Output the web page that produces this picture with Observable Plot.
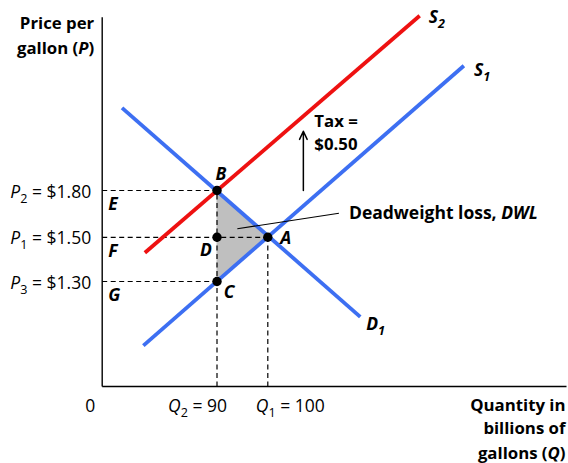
<!DOCTYPE html>
<html><head><meta charset="utf-8">
<script src="https://cdn.jsdelivr.net/npm/d3@7"></script>
<script src="https://cdn.jsdelivr.net/npm/@observablehq/plot@0.6"></script>
<style>body{margin:0;background:#fff} svg{display:block}</style>
</head><body><div id="chart"></div>
<script>
// ---- data ----
const priceTicks = [1.30, 1.50, 1.80];
const priceLabels = ["<i>P</i><sub>3</sub> = $1.30", "<i>P</i><sub>1</sub> = $1.50", "<i>P</i><sub>2</sub> = $1.80"];
const quantityTicks = [90, 100];
const quantityLabels = ["<i>Q</i><sub>2</sub> = 90", "<i>Q</i><sub>1</sub> = 100"];
const curveNames = ["D<sub>1</sub>", "S<sub>1</sub>", "S<sub>2</sub>"];
const curveQStart = [71.3, 75.5, 75.8];
const curvePStart = [2.33, 1.01, 1.43];
const curveQEnd = [118.2, 138.6, 129.9];
const curvePEnd = [1.14, 2.60, 2.92];
const pointNames = ["B", "D", "A", "C"];
const pointQ = [90, 90, 100, 90];
const pointP = [1.80, 1.50, 1.50, 1.30];
const dwlQ = [90, 100, 90];
const dwlP = [1.30, 1.50, 1.80];
const areaLetters = ["G", "F", "E"];
const taxQ = 107, taxPFrom = 1.80, taxPTo = 2.18;
const taxLabel = ["Tax =", "$0.50"];
const dwlLabel = "Deadweight loss, <i>DWL</i>";
const dwlPointer = {q1: 94.0, p1: 1.555, q2: 114.0, p2: 1.654};
const axisQmin = 67.4, axisQmax = 158.8, axisPmin = 0.825, axisPmax = 2.91;
const yTitle = ["Price per", "gallon (<i>P</i>)"];
const xTitle = ["Quantity in", "billions of", "gallons (<i>Q</i>)"];

// ---- tables ----
const curves = curveNames.map((name, i) => ({name, q1: curveQStart[i], p1: curvePStart[i], q2: curveQEnd[i], p2: curvePEnd[i]}));
const points = pointNames.map((name, i) => ({name, q: pointQ[i], p: pointP[i]}));
const dwl = dwlQ.map((q, i) => ({q, p: dwlP[i]}));
const ticksP = priceTicks.map((p, i) => ({p, label: priceLabels[i], letter: areaLetters[i]}));
const ticksQ = quantityTicks.map((q, i) => ({q, label: quantityLabels[i]}));
const hDash = [
  {q2: 90, p: 1.80}, {q2: 100, p: 1.50}, {q2: 90, p: 1.30}
];
const vDash = [{q: 90, p2: 1.80}, {q: 100, p2: 1.50}];

const blue = "#3d6ff2", red = "#ee1111";
const curveColor = {"D<sub>1</sub>": blue, "S<sub>1</sub>": blue, "S<sub>2</sub>": red};
const curveLabelOffset = {"D<sub>1</sub>": [6, 8], "S<sub>1</sub>": [10, 5], "S<sub>2</sub>": [9, 2]};
const pointLabelOffset = {B: [4, -16], D: [-11, 13], A: [18, 1], C: [12, 11]};
const font = "'Open Sans', sans-serif";
const regSize = 17.5, boldSize = 16.8, letterSize = 17.5;

const plot = Plot.plot({
  width: 568, height: 463,
  style: {fontFamily: font, background: "#fff", color: "#000"},
  x: {type: "linear", domain: [axisQmin, axisQmax], range: [101.7, 566], axis: null},
  y: {type: "linear", domain: priceTicks, range: [281, 236.8, 190], axis: null},
  marks: [
    // dead weight loss triangle
    Plot.areaX(dwl, {y: "p", x1: 90, x2: "q", fill: "#bfbfbf"}),
    // dashed guides
    Plot.link(hDash, {x1: axisQmin, x2: "q2", y1: "p", y2: "p", stroke: "#000", strokeWidth: 1.2, strokeDasharray: "5,3.5"}),
    Plot.link(vDash, {x1: "q", x2: "q", y1: axisPmin, y2: "p2", stroke: "#000", strokeWidth: 1.2, strokeDasharray: "5,3.5"}),
    // axes
    Plot.link([0], {x1: axisQmin, x2: axisQmin, y1: axisPmin, y2: axisPmax, stroke: "#000", strokeWidth: 1.4}),
    Plot.link([0], {x1: axisQmin, x2: axisQmax, y1: axisPmin, y2: axisPmin, stroke: "#000", strokeWidth: 1.4}),
    // curves
    Plot.link(curves, {x1: "q1", y1: "p1", x2: "q2", y2: "p2", stroke: d => curveColor[d.name], strokeWidth: 3.8}),
    // DWL pointer
    Plot.link([dwlPointer], {x1: "q1", y1: "p1", x2: "q2", y2: "p2", stroke: "#000", strokeWidth: 1.1}),
    // tax arrow
    Plot.arrow([0], {x1: taxQ, x2: taxQ, y1: taxPFrom, y2: taxPTo, stroke: "#000", strokeWidth: 1.5, headLength: 9, headAngle: 50}),
    // points
    Plot.dot(points, {x: "q", y: "p", r: 4.7, fill: "#000"}),
    // point labels
    ...points.map(d => Plot.text([d], {x: "q", y: "p", text: "name", dx: pointLabelOffset[d.name][0], dy: pointLabelOffset[d.name][1], fontSize: letterSize, fontWeight: "bold", fontStyle: "italic", fill: "#000"})),
    // curve labels
    ...curves.map(d => Plot.text([d], {x: "q2", y: "p2", text: "name", textAnchor: "start", dx: curveLabelOffset[d.name][0], dy: curveLabelOffset[d.name][1], fontSize: letterSize, fontWeight: "bold", fontStyle: "italic", fill: "#000"})),
    // price tick labels
    Plot.text(ticksP, {x: axisQmin, y: "p", text: "label", textAnchor: "end", dx: -11, dy: 1.5, fontSize: regSize, fill: "#000"}),
    Plot.text(ticksP, {x: axisQmin, y: "p", text: "letter", textAnchor: "start", dx: 6, dy: 14, fontSize: letterSize, fontWeight: "bold", fontStyle: "italic", fill: "#000"}),
    // quantity tick labels
    Plot.text([ticksQ[0]], {x: "q", y: axisPmin, text: "label", textAnchor: "end", dx: 10, dy: 20, fontSize: regSize, fill: "#000"}),
    Plot.text([ticksQ[1]], {x: "q", y: axisPmin, text: "label", textAnchor: "start", dx: -12, dy: 20, fontSize: regSize, fill: "#000"}),
    Plot.text(["0"], {x: axisQmin, y: axisPmin, text: d => d, dx: -12, dy: 20, fontSize: regSize, fill: "#000"}),
    // tax label
    ...taxLabel.map((t, i) => Plot.text([t], {x: taxQ, y: taxPTo, text: d => d, textAnchor: "start", dx: 11, dy: i === 0 ? -10 : 13, fontSize: boldSize, fontWeight: "bold", fill: "#000"})),
    // DWL label
    Plot.text([dwlLabel], {x: dwlPointer.q2, y: dwlPointer.p2, text: d => d, textAnchor: "start", dx: 10, dy: 0.5, fontSize: 17.5, fontWeight: "bold", fill: "#000"}),
    // axis titles
    ...yTitle.map((t, i) => Plot.text([t], {x: axisQmin, y: axisPmax, text: d => d, textAnchor: "end", dx: -8, dy: 6 + 25 * i, fontSize: boldSize, fontWeight: "bold", fill: "#000"})),
    ...xTitle.map((t, i) => Plot.text([t], {x: axisQmax, y: axisPmin, text: d => d, textAnchor: "end", dx: -1, dy: 19 + [0, 23.3, 48.3][i], fontSize: boldSize, fontWeight: "bold", fill: "#000"}))
  ]
});

// turn the small markup (<i>, <sub>) into tspans
function rich(svg) {
  svg.querySelectorAll("text").forEach(t => {
    const s = t.textContent;
    if (!s.includes("<")) return;
    t.textContent = "";
    const re = /<(i|sub)>(.*?)<\/\1>|([^<]+)/g;
    let m, shifted = false;
    while ((m = re.exec(s))) {
      const ts = document.createElementNS("http://www.w3.org/2000/svg", "tspan");
      if (m[1] === "i") {
        ts.setAttribute("font-style", "italic");
        ts.textContent = m[2];
        if (shifted) { ts.setAttribute("dy", "-5"); shifted = false; }
      } else if (m[1] === "sub") {
        ts.setAttribute("style", "font-size:0.72em");
        ts.setAttribute("dy", "5");
        shifted = true;
        ts.textContent = m[2];
      } else {
        ts.textContent = m[3];
        if (shifted) { ts.setAttribute("dy", "-5"); shifted = false; }
      }
      t.appendChild(ts);
    }
  });
}
rich(plot);
document.getElementById("chart").appendChild(plot);
</script>
</body></html>
